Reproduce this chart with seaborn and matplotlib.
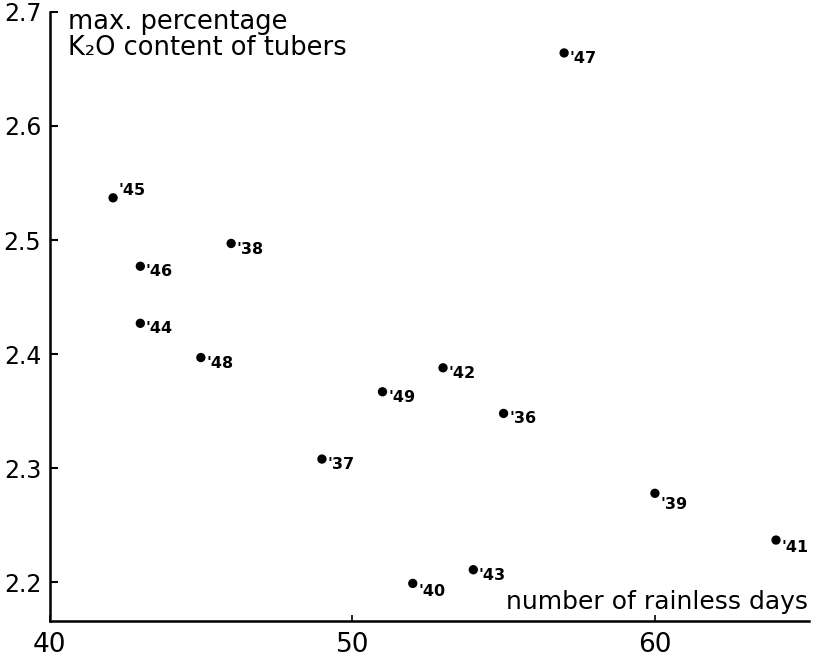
import numpy as np
import pandas as pd
import seaborn as sns
import matplotlib.pyplot as plt

# values
years = ["'36", "'37", "'38", "'39", "'40", "'41", "'42", "'43", "'44",
         "'45", "'46", "'47", "'48", "'49"]
rainless_days = [55, 49, 46, 60, 52, 64, 53, 54, 43, 42.1, 43, 57, 45, 51]
k2o_content = [2.348, 2.308, 2.497, 2.278, 2.199, 2.237, 2.388, 2.211, 2.427,
               2.537, 2.477, 2.664, 2.397, 2.367]
x_ticks = [40, 50, 60]
y_ticks = [2.2, 2.3, 2.4, 2.5, 2.6, 2.7]

df = pd.DataFrame({"days": rainless_days, "k2o": k2o_content, "year": years})

sns.set_style("ticks")
plt.rcParams["font.family"] = ["DejaVu Sans"]
plt.rcParams["text.color"] = "black"
plt.rcParams["xtick.color"] = "black"
plt.rcParams["ytick.color"] = "black"

fig = plt.figure(figsize=(8.17, 6.6), dpi=100)
ax = fig.add_axes([0.0606, 0.059, 0.930, 0.923])

sns.scatterplot(data=df, x="days", y="k2o", color="black", s=45,
                edgecolor="none", ax=ax, zorder=3)

# label offsets in points (layout only)
offsets = {"'45": (4, 5), "'39": (4, -8), "'41": (4, -5), "'40": (4, -6)}
for _, row in df.iterrows():
    dx, dy = offsets.get(row["year"], (4, -4))
    ax.annotate(row["year"], (row["days"], row["k2o"]), xytext=(dx, dy),
                textcoords="offset points", fontsize=11.5, fontweight="bold",
                ha="left", va="center")

ax.set_xlim(40, 65.1)
ax.set_ylim(2.166, 2.7)
ax.set_xticks(x_ticks)
ax.set_yticks(y_ticks)
ax.set_xticklabels([str(t) for t in x_ticks], fontsize=19)
ax.set_yticklabels([f"{t:.1f}" for t in y_ticks], fontsize=17)
ax.tick_params(axis="y", direction="in", length=6, width=1.5, pad=6)
ax.tick_params(axis="x", direction="in", length=4, width=1.2, pad=8)
ax.set_xlabel("")
ax.set_ylabel("")

sns.despine(ax=ax)
for side in ["left", "bottom"]:
    ax.spines[side].set_linewidth(1.8)
    ax.spines[side].set_color("black")

ax.text(0.024, 1.005, "max. percentage\nK\u2082O content of tubers",
        transform=ax.transAxes, fontsize=18.5, va="top", ha="left",
        linespacing=1.0)
ax.text(0.998, 0.012, "number of rainless days", transform=ax.transAxes,
        fontsize=18, va="bottom", ha="right")

fig.savefig("out.png", dpi=100)
